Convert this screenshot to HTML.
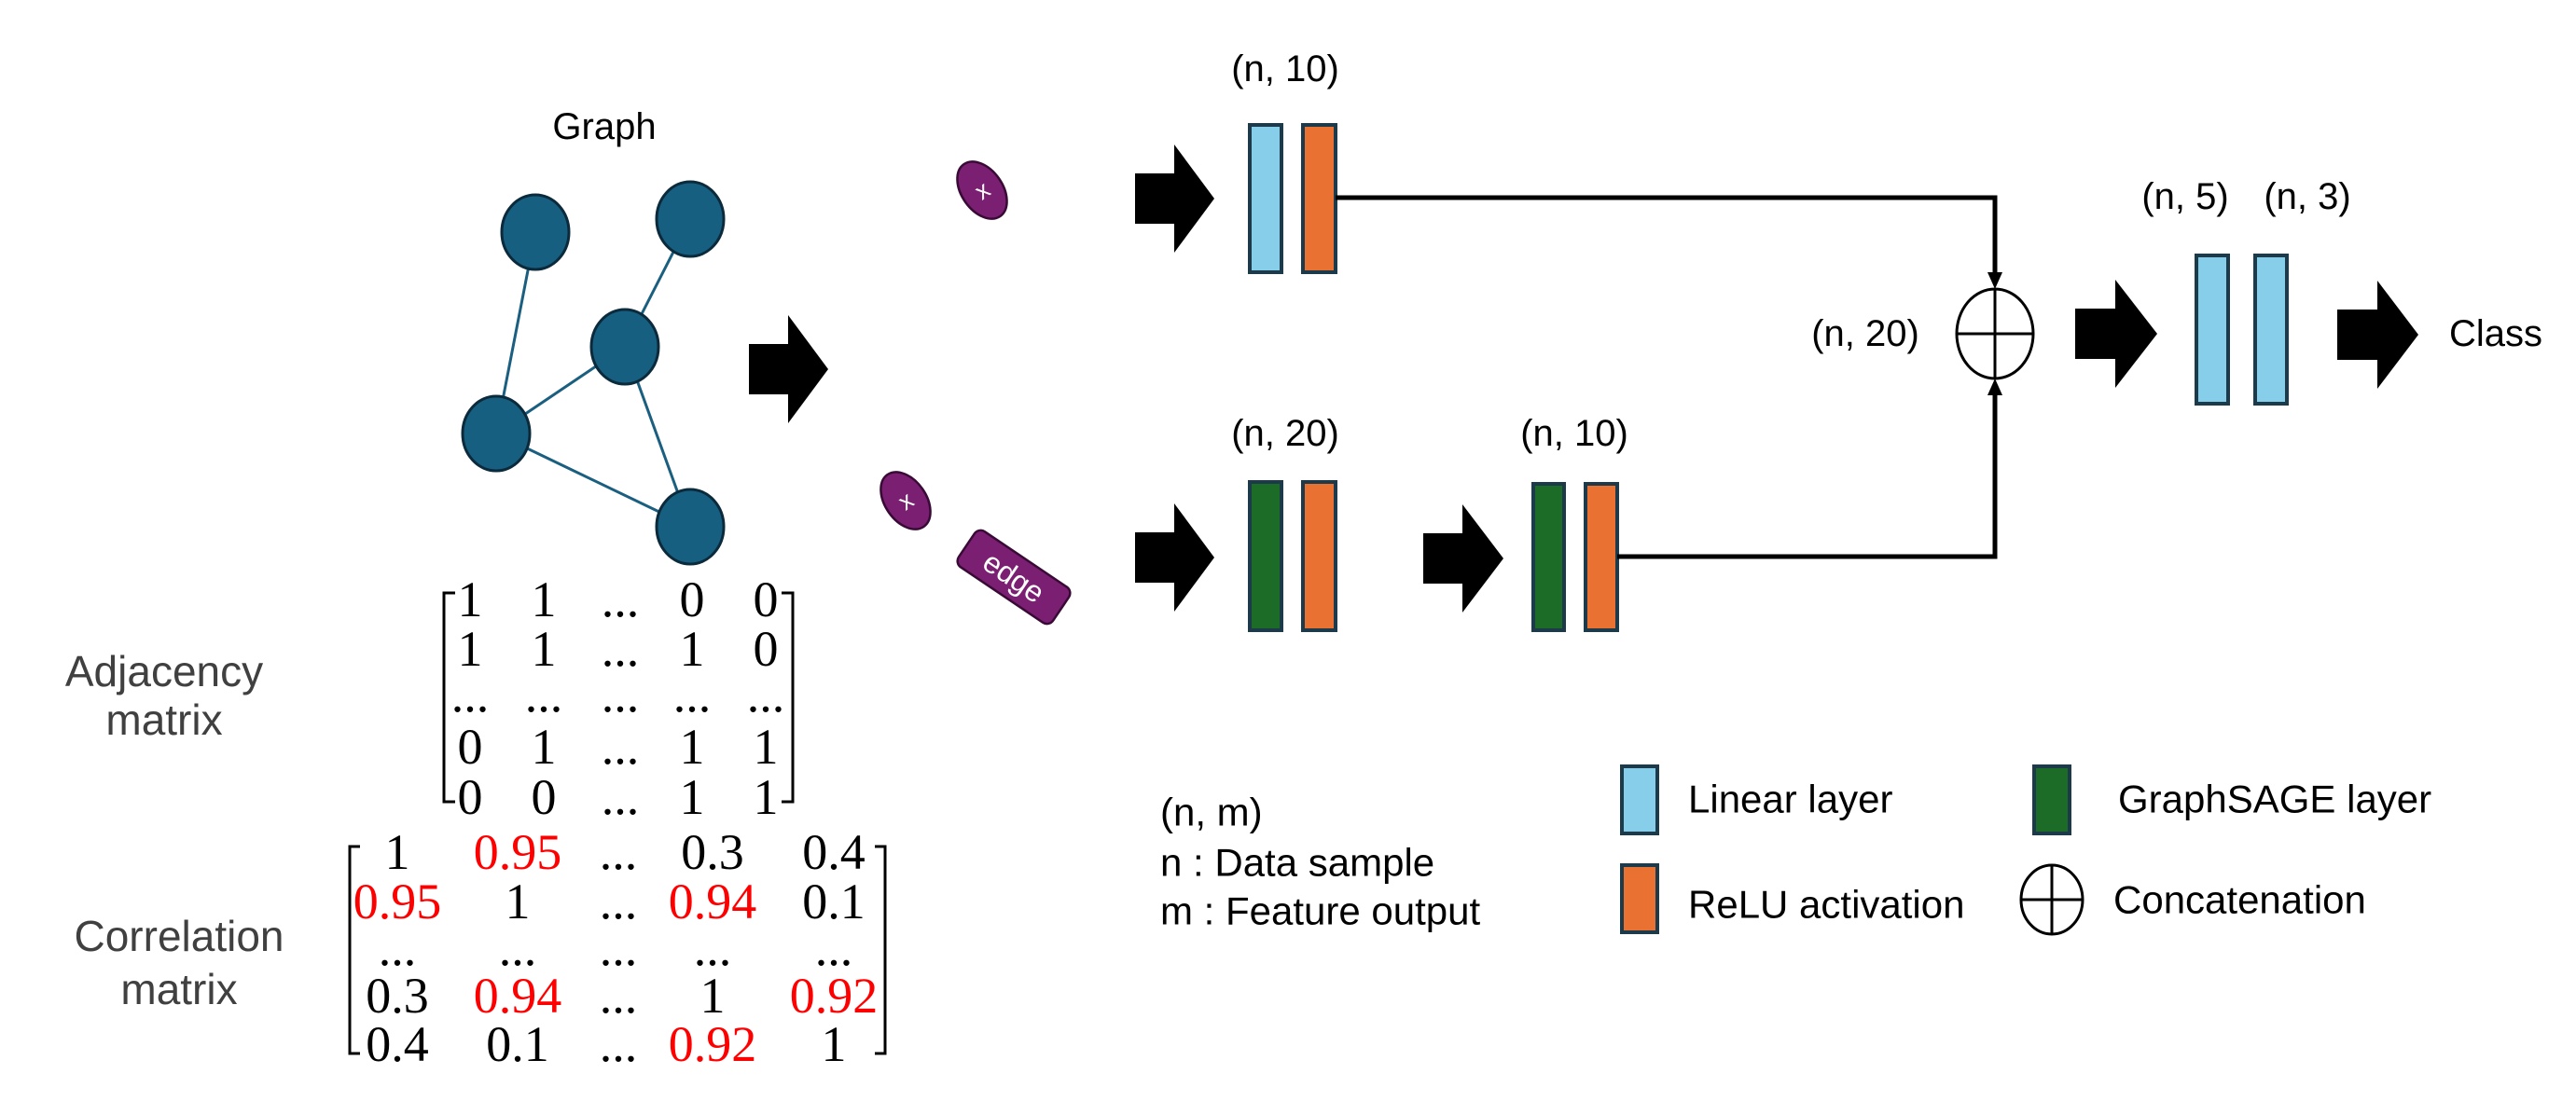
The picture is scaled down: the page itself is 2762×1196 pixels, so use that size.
<!DOCTYPE html>
<html><head><meta charset="utf-8"><style>
html,body{margin:0;padding:0;background:#fff;overflow:hidden;}
svg{display:block;}
text{font-family:"Liberation Sans",sans-serif;}
.s text{font-family:"Liberation Serif",serif;font-size:54px;}
</style></head><body>
<svg width="2762" height="1196" viewBox="0 0 2762 1196" xmlns="http://www.w3.org/2000/svg">
<text x="648" y="136" font-size="40" text-anchor="middle" dominant-baseline="central">Graph</text>
<g stroke="#1b5f80" stroke-width="3">
<line x1="574" y1="249" x2="532" y2="465"/>
<line x1="740" y1="235" x2="670" y2="372"/>
<line x1="670" y1="372" x2="532" y2="465"/>
<line x1="670" y1="372" x2="740" y2="565"/>
<line x1="532" y1="465" x2="740" y2="565"/>
</g>
<g fill="#175f80" stroke="#0b2a3c" stroke-width="3">
<ellipse cx="574" cy="249" rx="36" ry="40"/>
<ellipse cx="740" cy="235" rx="36" ry="40"/>
<ellipse cx="670" cy="372" rx="36" ry="40"/>
<ellipse cx="532" cy="465" rx="36" ry="40"/>
<ellipse cx="740" cy="565" rx="36" ry="40"/>
</g>
<g fill="#000">
<polygon points="803,369 845,369 845,338 888,396 845,454 845,423 803,423"/>
<polygon points="1217,186 1259,186 1259,155 1302,213 1259,271 1259,240 1217,240"/>
<polygon points="1217,571 1259,571 1259,540 1302,598 1259,656 1259,625 1217,625"/>
<polygon points="1526,572 1568,572 1568,541 1612,599 1568,657 1568,626 1526,626"/>
<polygon points="2225,331 2268,331 2268,300 2313,358 2268,416 2268,385 2225,385"/>
<polygon points="2506,332 2549,332 2549,301 2593,359 2549,417 2549,386 2506,386"/>
</g>
<g fill="#7b1f72" stroke="#3a0a36" stroke-width="2.5">
<ellipse cx="1053" cy="204" rx="22" ry="34" transform="rotate(-35 1053 204)"/>
<ellipse cx="971" cy="537" rx="22" ry="34" transform="rotate(-35 971 537)"/>
<rect x="1026" y="596" width="122" height="46" rx="8" transform="rotate(34 1087 619)"/>
</g>
<g fill="#fff" font-size="26" dominant-baseline="central" text-anchor="middle">
<text x="1053" y="204" transform="rotate(-35 1053 204)">x</text>
<text x="971" y="537" transform="rotate(-35 971 537)">x</text>
<text x="1087" y="619" font-size="32" transform="rotate(34 1087 619)">edge</text>
</g>
<g stroke="#1d3a4a" stroke-width="4">
<rect x="1340" y="134" width="34" height="158" fill="#87ceeb"/>
<rect x="1397" y="134" width="35" height="158" fill="#e97132"/>
<rect x="1340" y="517" width="34" height="159" fill="#1c6b27"/>
<rect x="1397" y="517" width="35" height="159" fill="#e97132"/>
<rect x="1644" y="519" width="33" height="157" fill="#1c6b27"/>
<rect x="1700" y="519" width="34" height="157" fill="#e97132"/>
<rect x="2355" y="274" width="34" height="159" fill="#87ceeb"/>
<rect x="2418" y="274" width="34" height="159" fill="#87ceeb"/>
</g>
<g fill="none" stroke="#000" stroke-width="5">
<polyline points="1432,212 2139,212 2139,296"/>
<polyline points="1734,597 2139,597 2139,420"/>
</g>
<polygon points="2131,292 2147,292 2139,310" fill="#000"/>
<polygon points="2131,424 2147,424 2139,406" fill="#000"/>
<g fill="none" stroke="#000" stroke-width="3">
<ellipse cx="2139" cy="358" rx="41" ry="48"/>
<line x1="2098" y1="358" x2="2180" y2="358"/>
<line x1="2139" y1="310" x2="2139" y2="406"/>
</g>
<g font-size="40" fill="#000" dominant-baseline="central" text-anchor="middle">
<text x="1378" y="74">(n, 10)</text>
<text x="1378" y="465">(n, 20)</text>
<text x="1688" y="465">(n, 10)</text>
<text x="2000" y="358">(n, 20)</text>
<text x="2343" y="211">(n, 5)</text>
<text x="2474" y="211">(n, 3)</text>
<text x="2676" y="358">Class</text>
</g>
<g font-size="42" fill="#000" dominant-baseline="central">
<text x="1244" y="871">(n, m)</text>
<text x="1244" y="925">n : Data sample</text>
<text x="1244" y="977">m : Feature output</text>
<text x="1810" y="857">Linear layer</text>
<text x="1810" y="970">ReLU activation</text>
<text x="2271" y="857">GraphSAGE layer</text>
<text x="2266" y="965">Concatenation</text>
</g>
<g stroke="#1d3a4a" stroke-width="4">
<rect x="1739" y="822" width="38" height="72" fill="#87ceeb"/>
<rect x="1739" y="928" width="38" height="72" fill="#e97132"/>
<rect x="2181" y="822" width="38" height="72" fill="#1c6b27"/>
</g>
<g fill="none" stroke="#000" stroke-width="3">
<ellipse cx="2200" cy="965" rx="33" ry="37"/>
<line x1="2167" y1="965" x2="2233" y2="965"/>
<line x1="2200" y1="928" x2="2200" y2="1002"/>
</g>
<g font-size="46" fill="#404040" dominant-baseline="central" text-anchor="middle">
<text x="176" y="720">Adjacency</text>
<text x="176" y="772">matrix</text>
<text x="192" y="1004">Correlation</text>
<text x="192" y="1061">matrix</text>
</g>
<g class="s" fill="#000" dominant-baseline="central" text-anchor="middle">
<text x="504" y="643">1</text><text x="583" y="643">1</text><text x="665" y="643">...</text><text x="742" y="643">0</text><text x="821" y="643">0</text>
<text x="504" y="696">1</text><text x="583" y="696">1</text><text x="665" y="696">...</text><text x="742" y="696">1</text><text x="821" y="696">0</text>
<text x="504" y="745">...</text><text x="583" y="745">...</text><text x="665" y="745">...</text><text x="742" y="745">...</text><text x="821" y="745">...</text>
<text x="504" y="801">0</text><text x="583" y="801">1</text><text x="665" y="801">...</text><text x="742" y="801">1</text><text x="821" y="801">1</text>
<text x="504" y="855">0</text><text x="583" y="855">0</text><text x="665" y="855">...</text><text x="742" y="855">1</text><text x="821" y="855">1</text>
</g>
<g fill="none" stroke="#000" stroke-width="3">
<polyline points="488,636 476,636 476,860 488,860"/>
<polyline points="838,636 850,636 850,860 838,860"/>
<polyline points="386,908 375,908 375,1130 386,1130"/>
<polyline points="938,908 949,908 949,1130 938,1130"/>
</g>
<g class="s" fill="#000" dominant-baseline="central" text-anchor="middle">
<text x="426" y="914">1</text><text x="555" y="914" fill="#f00">0.95</text><text x="663" y="914">...</text><text x="764" y="914">0.3</text><text x="894" y="914">0.4</text>
<text x="426" y="967" fill="#f00">0.95</text><text x="555" y="967">1</text><text x="663" y="967">...</text><text x="764" y="967" fill="#f00">0.94</text><text x="894" y="967">0.1</text>
<text x="426" y="1017">...</text><text x="555" y="1017">...</text><text x="663" y="1017">...</text><text x="764" y="1017">...</text><text x="894" y="1017">...</text>
<text x="426" y="1068">0.3</text><text x="555" y="1068" fill="#f00">0.94</text><text x="663" y="1068">...</text><text x="764" y="1068">1</text><text x="894" y="1068" fill="#f00">0.92</text>
<text x="426" y="1120">0.4</text><text x="555" y="1120">0.1</text><text x="663" y="1120">...</text><text x="764" y="1120" fill="#f00">0.92</text><text x="894" y="1120">1</text>
</g>
</svg>
</body></html>
